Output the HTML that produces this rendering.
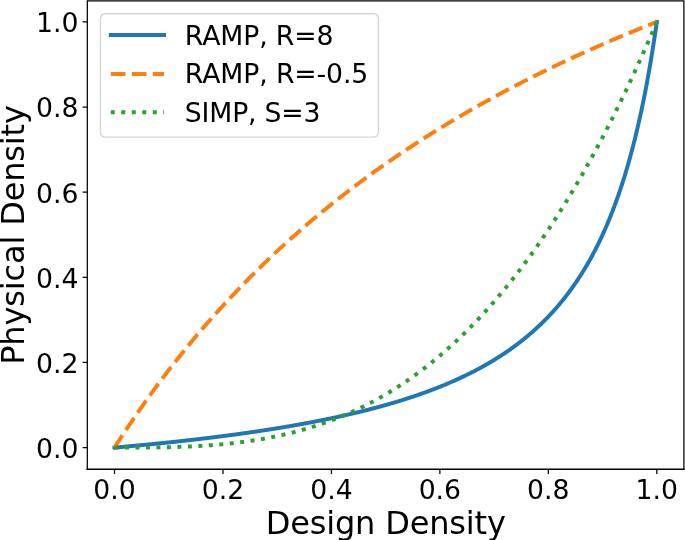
<!DOCTYPE html>
<html><head><meta charset="utf-8"><style>
html,body{margin:0;padding:0;background:#fff;width:685px;height:540px;overflow:hidden}
svg{display:block}
text{font-family:"DejaVu Sans","Liberation Sans",sans-serif}
</style></head><body>
<svg width="685" height="540" viewBox="0 0 685 540">
<rect width="685" height="540" fill="#fff"/>
<path d="M114.50,447.60 L115.04,447.55 L115.58,447.51 L116.13,447.46 L116.67,447.41 L117.21,447.36 L117.75,447.31 L118.30,447.27 L118.84,447.22 L119.38,447.17 L119.92,447.12 L120.47,447.07 L121.01,447.03 L121.55,446.98 L122.09,446.93 L122.63,446.88 L123.18,446.83 L123.72,446.78 L124.26,446.73 L124.80,446.69 L125.35,446.64 L125.89,446.59 L126.43,446.54 L126.97,446.49 L127.52,446.44 L128.06,446.39 L128.60,446.34 L129.14,446.29 L129.68,446.24 L130.23,446.19 L130.77,446.14 L131.31,446.09 L131.85,446.04 L132.40,445.99 L132.94,445.94 L133.48,445.89 L134.02,445.84 L134.57,445.79 L135.11,445.74 L135.65,445.69 L136.19,445.64 L136.73,445.59 L137.28,445.54 L137.82,445.49 L138.36,445.43 L138.90,445.38 L139.45,445.33 L139.99,445.28 L140.53,445.23 L141.07,445.18 L141.62,445.12 L142.16,445.07 L142.70,445.02 L143.24,444.97 L143.78,444.92 L144.33,444.86 L144.87,444.81 L145.41,444.76 L145.95,444.71 L146.50,444.65 L147.04,444.60 L147.58,444.55 L148.12,444.50 L148.66,444.44 L149.21,444.39 L149.75,444.34 L150.29,444.28 L150.83,444.23 L151.38,444.18 L151.92,444.12 L152.46,444.07 L153.00,444.02 L153.55,443.96 L154.09,443.91 L154.63,443.85 L155.17,443.80 L155.71,443.74 L156.26,443.69 L156.80,443.64 L157.34,443.58 L157.88,443.53 L158.43,443.47 L158.97,443.42 L159.51,443.36 L160.05,443.31 L160.60,443.25 L161.14,443.20 L161.68,443.14 L162.22,443.08 L162.76,443.03 L163.31,442.97 L163.85,442.92 L164.39,442.86 L164.93,442.80 L165.48,442.75 L166.02,442.69 L166.56,442.64 L167.10,442.58 L167.65,442.52 L168.19,442.47 L168.73,442.41 L169.27,442.35 L169.81,442.29 L170.36,442.24 L170.90,442.18 L171.44,442.12 L171.98,442.06 L172.53,442.01 L173.07,441.95 L173.61,441.89 L174.15,441.83 L174.70,441.77 L175.24,441.72 L175.78,441.66 L176.32,441.60 L176.86,441.54 L177.41,441.48 L177.95,441.42 L178.49,441.36 L179.03,441.31 L179.58,441.25 L180.12,441.19 L180.66,441.13 L181.20,441.07 L181.75,441.01 L182.29,440.95 L182.83,440.89 L183.37,440.83 L183.91,440.77 L184.46,440.71 L185.00,440.65 L185.54,440.59 L186.08,440.53 L186.63,440.47 L187.17,440.40 L187.71,440.34 L188.25,440.28 L188.80,440.22 L189.34,440.16 L189.88,440.10 L190.42,440.04 L190.96,439.98 L191.51,439.91 L192.05,439.85 L192.59,439.79 L193.13,439.73 L193.68,439.66 L194.22,439.60 L194.76,439.54 L195.30,439.48 L195.84,439.41 L196.39,439.35 L196.93,439.29 L197.47,439.22 L198.01,439.16 L198.56,439.10 L199.10,439.03 L199.64,438.97 L200.18,438.91 L200.73,438.84 L201.27,438.78 L201.81,438.71 L202.35,438.65 L202.89,438.58 L203.44,438.52 L203.98,438.45 L204.52,438.39 L205.06,438.32 L205.61,438.26 L206.15,438.19 L206.69,438.13 L207.23,438.06 L207.78,438.00 L208.32,437.93 L208.86,437.86 L209.40,437.80 L209.94,437.73 L210.49,437.66 L211.03,437.60 L211.57,437.53 L212.11,437.46 L212.66,437.40 L213.20,437.33 L213.74,437.26 L214.28,437.20 L214.83,437.13 L215.37,437.06 L215.91,436.99 L216.45,436.92 L216.99,436.86 L217.54,436.79 L218.08,436.72 L218.62,436.65 L219.16,436.58 L219.71,436.51 L220.25,436.44 L220.79,436.37 L221.33,436.30 L221.88,436.23 L222.42,436.16 L222.96,436.09 L223.50,436.02 L224.04,435.95 L224.59,435.88 L225.13,435.81 L225.67,435.74 L226.21,435.67 L226.76,435.60 L227.30,435.53 L227.84,435.46 L228.38,435.39 L228.93,435.32 L229.47,435.24 L230.01,435.17 L230.55,435.10 L231.09,435.03 L231.64,434.96 L232.18,434.88 L232.72,434.81 L233.26,434.74 L233.81,434.66 L234.35,434.59 L234.89,434.52 L235.43,434.44 L235.98,434.37 L236.52,434.30 L237.06,434.22 L237.60,434.15 L238.14,434.07 L238.69,434.00 L239.23,433.93 L239.77,433.85 L240.31,433.78 L240.86,433.70 L241.40,433.62 L241.94,433.55 L242.48,433.47 L243.03,433.40 L243.57,433.32 L244.11,433.25 L244.65,433.17 L245.19,433.09 L245.74,433.02 L246.28,432.94 L246.82,432.86 L247.36,432.79 L247.91,432.71 L248.45,432.63 L248.99,432.55 L249.53,432.47 L250.07,432.40 L250.62,432.32 L251.16,432.24 L251.70,432.16 L252.24,432.08 L252.79,432.00 L253.33,431.92 L253.87,431.84 L254.41,431.77 L254.96,431.69 L255.50,431.61 L256.04,431.53 L256.58,431.45 L257.12,431.36 L257.67,431.28 L258.21,431.20 L258.75,431.12 L259.29,431.04 L259.84,430.96 L260.38,430.88 L260.92,430.80 L261.46,430.71 L262.01,430.63 L262.55,430.55 L263.09,430.47 L263.63,430.38 L264.17,430.30 L264.72,430.22 L265.26,430.13 L265.80,430.05 L266.34,429.97 L266.89,429.88 L267.43,429.80 L267.97,429.72 L268.51,429.63 L269.06,429.55 L269.60,429.46 L270.14,429.38 L270.68,429.29 L271.22,429.20 L271.77,429.12 L272.31,429.03 L272.85,428.95 L273.39,428.86 L273.94,428.77 L274.48,428.69 L275.02,428.60 L275.56,428.51 L276.11,428.43 L276.65,428.34 L277.19,428.25 L277.73,428.16 L278.27,428.07 L278.82,427.99 L279.36,427.90 L279.90,427.81 L280.44,427.72 L280.99,427.63 L281.53,427.54 L282.07,427.45 L282.61,427.36 L283.16,427.27 L283.70,427.18 L284.24,427.09 L284.78,427.00 L285.32,426.91 L285.87,426.81 L286.41,426.72 L286.95,426.63 L287.49,426.54 L288.04,426.45 L288.58,426.35 L289.12,426.26 L289.66,426.17 L290.21,426.08 L290.75,425.98 L291.29,425.89 L291.83,425.79 L292.37,425.70 L292.92,425.61 L293.46,425.51 L294.00,425.42 L294.54,425.32 L295.09,425.23 L295.63,425.13 L296.17,425.04 L296.71,424.94 L297.26,424.84 L297.80,424.75 L298.34,424.65 L298.88,424.55 L299.42,424.46 L299.97,424.36 L300.51,424.26 L301.05,424.16 L301.59,424.06 L302.14,423.97 L302.68,423.87 L303.22,423.77 L303.76,423.67 L304.31,423.57 L304.85,423.47 L305.39,423.37 L305.93,423.27 L306.47,423.17 L307.02,423.07 L307.56,422.97 L308.10,422.86 L308.64,422.76 L309.19,422.66 L309.73,422.56 L310.27,422.46 L310.81,422.35 L311.35,422.25 L311.90,422.15 L312.44,422.04 L312.98,421.94 L313.52,421.84 L314.07,421.73 L314.61,421.63 L315.15,421.52 L315.69,421.42 L316.24,421.31 L316.78,421.21 L317.32,421.10 L317.86,420.99 L318.40,420.89 L318.95,420.78 L319.49,420.67 L320.03,420.57 L320.57,420.46 L321.12,420.35 L321.66,420.24 L322.20,420.13 L322.74,420.02 L323.29,419.92 L323.83,419.81 L324.37,419.70 L324.91,419.59 L325.45,419.48 L326.00,419.36 L326.54,419.25 L327.08,419.14 L327.62,419.03 L328.17,418.92 L328.71,418.81 L329.25,418.69 L329.79,418.58 L330.34,418.47 L330.88,418.36 L331.42,418.24 L331.96,418.13 L332.50,418.01 L333.05,417.90 L333.59,417.78 L334.13,417.67 L334.67,417.55 L335.22,417.44 L335.76,417.32 L336.30,417.20 L336.84,417.09 L337.39,416.97 L337.93,416.85 L338.47,416.73 L339.01,416.62 L339.55,416.50 L340.10,416.38 L340.64,416.26 L341.18,416.14 L341.72,416.02 L342.27,415.90 L342.81,415.78 L343.35,415.66 L343.89,415.54 L344.44,415.41 L344.98,415.29 L345.52,415.17 L346.06,415.05 L346.60,414.92 L347.15,414.80 L347.69,414.68 L348.23,414.55 L348.77,414.43 L349.32,414.30 L349.86,414.18 L350.40,414.05 L350.94,413.93 L351.49,413.80 L352.03,413.67 L352.57,413.55 L353.11,413.42 L353.65,413.29 L354.20,413.16 L354.74,413.04 L355.28,412.91 L355.82,412.78 L356.37,412.65 L356.91,412.52 L357.45,412.39 L357.99,412.26 L358.53,412.12 L359.08,411.99 L359.62,411.86 L360.16,411.73 L360.70,411.60 L361.25,411.46 L361.79,411.33 L362.33,411.20 L362.87,411.06 L363.42,410.93 L363.96,410.79 L364.50,410.66 L365.04,410.52 L365.58,410.38 L366.13,410.25 L366.67,410.11 L367.21,409.97 L367.75,409.83 L368.30,409.70 L368.84,409.56 L369.38,409.42 L369.92,409.28 L370.47,409.14 L371.01,409.00 L371.55,408.86 L372.09,408.71 L372.63,408.57 L373.18,408.43 L373.72,408.29 L374.26,408.14 L374.80,408.00 L375.35,407.86 L375.89,407.71 L376.43,407.57 L376.97,407.42 L377.52,407.27 L378.06,407.13 L378.60,406.98 L379.14,406.83 L379.68,406.69 L380.23,406.54 L380.77,406.39 L381.31,406.24 L381.85,406.09 L382.40,405.94 L382.94,405.79 L383.48,405.64 L384.02,405.49 L384.57,405.34 L385.11,405.18 L385.65,405.03 L386.19,404.88 L386.73,404.72 L387.28,404.57 L387.82,404.41 L388.36,404.26 L388.90,404.10 L389.45,403.95 L389.99,403.79 L390.53,403.63 L391.07,403.47 L391.62,403.31 L392.16,403.15 L392.70,403.00 L393.24,402.84 L393.78,402.67 L394.33,402.51 L394.87,402.35 L395.41,402.19 L395.95,402.03 L396.50,401.86 L397.04,401.70 L397.58,401.54 L398.12,401.37 L398.67,401.21 L399.21,401.04 L399.75,400.87 L400.29,400.71 L400.83,400.54 L401.38,400.37 L401.92,400.20 L402.46,400.03 L403.00,399.86 L403.55,399.69 L404.09,399.52 L404.63,399.35 L405.17,399.18 L405.72,399.00 L406.26,398.83 L406.80,398.66 L407.34,398.48 L407.88,398.31 L408.43,398.13 L408.97,397.95 L409.51,397.78 L410.05,397.60 L410.60,397.42 L411.14,397.24 L411.68,397.06 L412.22,396.88 L412.76,396.70 L413.31,396.52 L413.85,396.34 L414.39,396.16 L414.93,395.97 L415.48,395.79 L416.02,395.60 L416.56,395.42 L417.10,395.23 L417.65,395.05 L418.19,394.86 L418.73,394.67 L419.27,394.48 L419.81,394.29 L420.36,394.10 L420.90,393.91 L421.44,393.72 L421.98,393.53 L422.53,393.34 L423.07,393.14 L423.61,392.95 L424.15,392.75 L424.70,392.56 L425.24,392.36 L425.78,392.17 L426.32,391.97 L426.86,391.77 L427.41,391.57 L427.95,391.37 L428.49,391.17 L429.03,390.97 L429.58,390.77 L430.12,390.57 L430.66,390.36 L431.20,390.16 L431.75,389.95 L432.29,389.75 L432.83,389.54 L433.37,389.33 L433.91,389.13 L434.46,388.92 L435.00,388.71 L435.54,388.50 L436.08,388.29 L436.63,388.07 L437.17,387.86 L437.71,387.65 L438.25,387.43 L438.80,387.22 L439.34,387.00 L439.88,386.79 L440.42,386.57 L440.96,386.35 L441.51,386.13 L442.05,385.91 L442.59,385.69 L443.13,385.47 L443.68,385.24 L444.22,385.02 L444.76,384.80 L445.30,384.57 L445.85,384.35 L446.39,384.12 L446.93,383.89 L447.47,383.66 L448.01,383.43 L448.56,383.20 L449.10,382.97 L449.64,382.74 L450.18,382.50 L450.73,382.27 L451.27,382.03 L451.81,381.80 L452.35,381.56 L452.90,381.32 L453.44,381.08 L453.98,380.84 L454.52,380.60 L455.06,380.36 L455.61,380.12 L456.15,379.88 L456.69,379.63 L457.23,379.38 L457.78,379.14 L458.32,378.89 L458.86,378.64 L459.40,378.39 L459.95,378.14 L460.49,377.89 L461.03,377.64 L461.57,377.38 L462.11,377.13 L462.66,376.87 L463.20,376.61 L463.74,376.35 L464.28,376.10 L464.83,375.84 L465.37,375.57 L465.91,375.31 L466.45,375.05 L467.00,374.78 L467.54,374.52 L468.08,374.25 L468.62,373.98 L469.16,373.71 L469.71,373.44 L470.25,373.17 L470.79,372.90 L471.33,372.62 L471.88,372.35 L472.42,372.07 L472.96,371.80 L473.50,371.52 L474.04,371.24 L474.59,370.96 L475.13,370.67 L475.67,370.39 L476.21,370.10 L476.76,369.82 L477.30,369.53 L477.84,369.24 L478.38,368.95 L478.93,368.66 L479.47,368.37 L480.01,368.08 L480.55,367.78 L481.09,367.48 L481.64,367.19 L482.18,366.89 L482.72,366.59 L483.26,366.29 L483.81,365.98 L484.35,365.68 L484.89,365.37 L485.43,365.07 L485.98,364.76 L486.52,364.45 L487.06,364.14 L487.60,363.82 L488.14,363.51 L488.69,363.19 L489.23,362.88 L489.77,362.56 L490.31,362.24 L490.86,361.92 L491.40,361.59 L491.94,361.27 L492.48,360.94 L493.03,360.62 L493.57,360.29 L494.11,359.96 L494.65,359.62 L495.19,359.29 L495.74,358.95 L496.28,358.62 L496.82,358.28 L497.36,357.94 L497.91,357.60 L498.45,357.25 L498.99,356.91 L499.53,356.56 L500.08,356.21 L500.62,355.86 L501.16,355.51 L501.70,355.16 L502.24,354.80 L502.79,354.45 L503.33,354.09 L503.87,353.73 L504.41,353.36 L504.96,353.00 L505.50,352.63 L506.04,352.27 L506.58,351.90 L507.13,351.53 L507.67,351.15 L508.21,350.78 L508.75,350.40 L509.29,350.02 L509.84,349.64 L510.38,349.26 L510.92,348.87 L511.46,348.49 L512.01,348.10 L512.55,347.71 L513.09,347.31 L513.63,346.92 L514.18,346.52 L514.72,346.12 L515.26,345.72 L515.80,345.32 L516.34,344.92 L516.89,344.51 L517.43,344.10 L517.97,343.69 L518.51,343.28 L519.06,342.86 L519.60,342.44 L520.14,342.02 L520.68,341.60 L521.22,341.18 L521.77,340.75 L522.31,340.32 L522.85,339.89 L523.39,339.45 L523.94,339.02 L524.48,338.58 L525.02,338.14 L525.56,337.70 L526.11,337.25 L526.65,336.80 L527.19,336.35 L527.73,335.90 L528.27,335.44 L528.82,334.98 L529.36,334.52 L529.90,334.06 L530.44,333.59 L530.99,333.13 L531.53,332.66 L532.07,332.18 L532.61,331.70 L533.16,331.23 L533.70,330.74 L534.24,330.26 L534.78,329.77 L535.32,329.28 L535.87,328.79 L536.41,328.29 L536.95,327.79 L537.49,327.29 L538.04,326.79 L538.58,326.28 L539.12,325.77 L539.66,325.26 L540.21,324.74 L540.75,324.22 L541.29,323.70 L541.83,323.17 L542.37,322.65 L542.92,322.11 L543.46,321.58 L544.00,321.04 L544.54,320.50 L545.09,319.95 L545.63,319.41 L546.17,318.85 L546.71,318.30 L547.26,317.74 L547.80,317.18 L548.34,316.62 L548.88,316.05 L549.42,315.47 L549.97,314.90 L550.51,314.32 L551.05,313.74 L551.59,313.15 L552.14,312.56 L552.68,311.97 L553.22,311.37 L553.76,310.77 L554.31,310.16 L554.85,309.55 L555.39,308.94 L555.93,308.32 L556.47,307.70 L557.02,307.08 L557.56,306.45 L558.10,305.82 L558.64,305.18 L559.19,304.54 L559.73,303.89 L560.27,303.24 L560.81,302.59 L561.36,301.93 L561.90,301.27 L562.44,300.60 L562.98,299.93 L563.52,299.25 L564.07,298.57 L564.61,297.88 L565.15,297.19 L565.69,296.50 L566.24,295.80 L566.78,295.09 L567.32,294.38 L567.86,293.67 L568.41,292.95 L568.95,292.23 L569.49,291.50 L570.03,290.76 L570.57,290.02 L571.12,289.28 L571.66,288.53 L572.20,287.77 L572.74,287.01 L573.29,286.25 L573.83,285.47 L574.37,284.70 L574.91,283.91 L575.45,283.13 L576.00,282.33 L576.54,281.53 L577.08,280.72 L577.62,279.91 L578.17,279.09 L578.71,278.27 L579.25,277.44 L579.79,276.60 L580.34,275.76 L580.88,274.91 L581.42,274.05 L581.96,273.19 L582.50,272.32 L583.05,271.45 L583.59,270.57 L584.13,269.68 L584.67,268.78 L585.22,267.88 L585.76,266.97 L586.30,266.05 L586.84,265.13 L587.39,264.20 L587.93,263.26 L588.47,262.31 L589.01,261.36 L589.55,260.39 L590.10,259.43 L590.64,258.45 L591.18,257.46 L591.72,256.47 L592.27,255.47 L592.81,254.46 L593.35,253.44 L593.89,252.41 L594.44,251.38 L594.98,250.34 L595.52,249.28 L596.06,248.22 L596.60,247.15 L597.15,246.07 L597.69,244.98 L598.23,243.89 L598.77,242.78 L599.32,241.66 L599.86,240.53 L600.40,239.40 L600.94,238.25 L601.49,237.09 L602.03,235.93 L602.57,234.75 L603.11,233.56 L603.65,232.36 L604.20,231.15 L604.74,229.93 L605.28,228.70 L605.82,227.46 L606.37,226.21 L606.91,224.94 L607.45,223.66 L607.99,222.38 L608.54,221.07 L609.08,219.76 L609.62,218.43 L610.16,217.10 L610.70,215.75 L611.25,214.38 L611.79,213.00 L612.33,211.61 L612.87,210.21 L613.42,208.79 L613.96,207.36 L614.50,205.92 L615.04,204.46 L615.59,202.98 L616.13,201.49 L616.67,199.99 L617.21,198.47 L617.75,196.93 L618.30,195.38 L618.84,193.82 L619.38,192.23 L619.92,190.64 L620.47,189.02 L621.01,187.39 L621.55,185.74 L622.09,184.07 L622.64,182.39 L623.18,180.68 L623.72,178.96 L624.26,177.22 L624.80,175.46 L625.35,173.69 L625.89,171.89 L626.43,170.07 L626.97,168.23 L627.52,166.38 L628.06,164.50 L628.60,162.60 L629.14,160.68 L629.68,158.73 L630.23,156.77 L630.77,154.78 L631.31,152.77 L631.85,150.73 L632.40,148.67 L632.94,146.59 L633.48,144.48 L634.02,142.35 L634.57,140.19 L635.11,138.00 L635.65,135.79 L636.19,133.55 L636.73,131.28 L637.28,128.99 L637.82,126.66 L638.36,124.31 L638.90,121.93 L639.45,119.51 L639.99,117.07 L640.53,114.59 L641.07,112.08 L641.62,109.54 L642.16,106.97 L642.70,104.36 L643.24,101.72 L643.78,99.04 L644.33,96.33 L644.87,93.57 L645.41,90.78 L645.95,87.96 L646.50,85.09 L647.04,82.18 L647.58,79.23 L648.12,76.24 L648.67,73.21 L649.21,70.14 L649.75,67.01 L650.29,63.85 L650.83,60.64 L651.38,57.38 L651.92,54.07 L652.46,50.71 L653.00,47.30 L653.55,43.83 L654.09,40.32 L654.63,36.75 L655.17,33.12 L655.72,29.44 L656.26,25.70 L656.80,21.90" fill="none" stroke="#1f77b4" stroke-width="3.96" stroke-linecap="square" stroke-linejoin="round"/>
<path d="M114.50,447.60 L115.04,446.75 L115.58,445.90 L116.13,445.05 L116.67,444.21 L117.21,443.36 L117.75,442.52 L118.30,441.68 L118.84,440.84 L119.38,440.01 L119.92,439.17 L120.47,438.34 L121.01,437.50 L121.55,436.67 L122.09,435.84 L122.63,435.02 L123.18,434.19 L123.72,433.37 L124.26,432.55 L124.80,431.73 L125.35,430.91 L125.89,430.09 L126.43,429.27 L126.97,428.46 L127.52,427.65 L128.06,426.83 L128.60,426.02 L129.14,425.22 L129.68,424.41 L130.23,423.61 L130.77,422.80 L131.31,422.00 L131.85,421.20 L132.40,420.40 L132.94,419.60 L133.48,418.81 L134.02,418.01 L134.57,417.22 L135.11,416.43 L135.65,415.64 L136.19,414.85 L136.73,414.07 L137.28,413.28 L137.82,412.50 L138.36,411.72 L138.90,410.94 L139.45,410.16 L139.99,409.38 L140.53,408.60 L141.07,407.83 L141.62,407.06 L142.16,406.29 L142.70,405.52 L143.24,404.75 L143.78,403.98 L144.33,403.21 L144.87,402.45 L145.41,401.69 L145.95,400.93 L146.50,400.17 L147.04,399.41 L147.58,398.65 L148.12,397.89 L148.66,397.14 L149.21,396.39 L149.75,395.64 L150.29,394.89 L150.83,394.14 L151.38,393.39 L151.92,392.65 L152.46,391.90 L153.00,391.16 L153.55,390.42 L154.09,389.68 L154.63,388.94 L155.17,388.20 L155.71,387.46 L156.26,386.73 L156.80,386.00 L157.34,385.26 L157.88,384.53 L158.43,383.80 L158.97,383.08 L159.51,382.35 L160.05,381.62 L160.60,380.90 L161.14,380.18 L161.68,379.46 L162.22,378.74 L162.76,378.02 L163.31,377.30 L163.85,376.58 L164.39,375.87 L164.93,375.16 L165.48,374.44 L166.02,373.73 L166.56,373.02 L167.10,372.32 L167.65,371.61 L168.19,370.90 L168.73,370.20 L169.27,369.50 L169.81,368.80 L170.36,368.09 L170.90,367.40 L171.44,366.70 L171.98,366.00 L172.53,365.31 L173.07,364.61 L173.61,363.92 L174.15,363.23 L174.70,362.54 L175.24,361.85 L175.78,361.16 L176.32,360.47 L176.86,359.79 L177.41,359.10 L177.95,358.42 L178.49,357.74 L179.03,357.06 L179.58,356.38 L180.12,355.70 L180.66,355.02 L181.20,354.35 L181.75,353.67 L182.29,353.00 L182.83,352.33 L183.37,351.66 L183.91,350.99 L184.46,350.32 L185.00,349.65 L185.54,348.99 L186.08,348.32 L186.63,347.66 L187.17,346.99 L187.71,346.33 L188.25,345.67 L188.80,345.01 L189.34,344.35 L189.88,343.70 L190.42,343.04 L190.96,342.39 L191.51,341.73 L192.05,341.08 L192.59,340.43 L193.13,339.78 L193.68,339.13 L194.22,338.48 L194.76,337.84 L195.30,337.19 L195.84,336.55 L196.39,335.90 L196.93,335.26 L197.47,334.62 L198.01,333.98 L198.56,333.34 L199.10,332.71 L199.64,332.07 L200.18,331.43 L200.73,330.80 L201.27,330.17 L201.81,329.53 L202.35,328.90 L202.89,328.27 L203.44,327.64 L203.98,327.02 L204.52,326.39 L205.06,325.76 L205.61,325.14 L206.15,324.51 L206.69,323.89 L207.23,323.27 L207.78,322.65 L208.32,322.03 L208.86,321.41 L209.40,320.80 L209.94,320.18 L210.49,319.56 L211.03,318.95 L211.57,318.34 L212.11,317.73 L212.66,317.11 L213.20,316.50 L213.74,315.90 L214.28,315.29 L214.83,314.68 L215.37,314.08 L215.91,313.47 L216.45,312.87 L216.99,312.26 L217.54,311.66 L218.08,311.06 L218.62,310.46 L219.16,309.86 L219.71,309.27 L220.25,308.67 L220.79,308.07 L221.33,307.48 L221.88,306.88 L222.42,306.29 L222.96,305.70 L223.50,305.11 L224.04,304.52 L224.59,303.93 L225.13,303.34 L225.67,302.76 L226.21,302.17 L226.76,301.59 L227.30,301.00 L227.84,300.42 L228.38,299.84 L228.93,299.26 L229.47,298.68 L230.01,298.10 L230.55,297.52 L231.09,296.94 L231.64,296.36 L232.18,295.79 L232.72,295.21 L233.26,294.64 L233.81,294.07 L234.35,293.50 L234.89,292.93 L235.43,292.36 L235.98,291.79 L236.52,291.22 L237.06,290.65 L237.60,290.09 L238.14,289.52 L238.69,288.96 L239.23,288.40 L239.77,287.83 L240.31,287.27 L240.86,286.71 L241.40,286.15 L241.94,285.59 L242.48,285.03 L243.03,284.48 L243.57,283.92 L244.11,283.37 L244.65,282.81 L245.19,282.26 L245.74,281.71 L246.28,281.16 L246.82,280.61 L247.36,280.06 L247.91,279.51 L248.45,278.96 L248.99,278.41 L249.53,277.87 L250.07,277.32 L250.62,276.78 L251.16,276.23 L251.70,275.69 L252.24,275.15 L252.79,274.61 L253.33,274.07 L253.87,273.53 L254.41,272.99 L254.96,272.45 L255.50,271.91 L256.04,271.38 L256.58,270.84 L257.12,270.31 L257.67,269.78 L258.21,269.24 L258.75,268.71 L259.29,268.18 L259.84,267.65 L260.38,267.12 L260.92,266.59 L261.46,266.07 L262.01,265.54 L262.55,265.01 L263.09,264.49 L263.63,263.96 L264.17,263.44 L264.72,262.92 L265.26,262.40 L265.80,261.88 L266.34,261.36 L266.89,260.84 L267.43,260.32 L267.97,259.80 L268.51,259.28 L269.06,258.77 L269.60,258.25 L270.14,257.74 L270.68,257.22 L271.22,256.71 L271.77,256.20 L272.31,255.69 L272.85,255.18 L273.39,254.67 L273.94,254.16 L274.48,253.65 L275.02,253.14 L275.56,252.64 L276.11,252.13 L276.65,251.63 L277.19,251.12 L277.73,250.62 L278.27,250.12 L278.82,249.62 L279.36,249.11 L279.90,248.61 L280.44,248.11 L280.99,247.62 L281.53,247.12 L282.07,246.62 L282.61,246.12 L283.16,245.63 L283.70,245.13 L284.24,244.64 L284.78,244.15 L285.32,243.65 L285.87,243.16 L286.41,242.67 L286.95,242.18 L287.49,241.69 L288.04,241.20 L288.58,240.71 L289.12,240.22 L289.66,239.74 L290.21,239.25 L290.75,238.77 L291.29,238.28 L291.83,237.80 L292.37,237.31 L292.92,236.83 L293.46,236.35 L294.00,235.87 L294.54,235.39 L295.09,234.91 L295.63,234.43 L296.17,233.95 L296.71,233.48 L297.26,233.00 L297.80,232.52 L298.34,232.05 L298.88,231.57 L299.42,231.10 L299.97,230.63 L300.51,230.15 L301.05,229.68 L301.59,229.21 L302.14,228.74 L302.68,228.27 L303.22,227.80 L303.76,227.33 L304.31,226.87 L304.85,226.40 L305.39,225.93 L305.93,225.47 L306.47,225.00 L307.02,224.54 L307.56,224.08 L308.10,223.61 L308.64,223.15 L309.19,222.69 L309.73,222.23 L310.27,221.77 L310.81,221.31 L311.35,220.85 L311.90,220.39 L312.44,219.94 L312.98,219.48 L313.52,219.02 L314.07,218.57 L314.61,218.11 L315.15,217.66 L315.69,217.21 L316.24,216.75 L316.78,216.30 L317.32,215.85 L317.86,215.40 L318.40,214.95 L318.95,214.50 L319.49,214.05 L320.03,213.60 L320.57,213.16 L321.12,212.71 L321.66,212.26 L322.20,211.82 L322.74,211.37 L323.29,210.93 L323.83,210.49 L324.37,210.04 L324.91,209.60 L325.45,209.16 L326.00,208.72 L326.54,208.28 L327.08,207.84 L327.62,207.40 L328.17,206.96 L328.71,206.52 L329.25,206.09 L329.79,205.65 L330.34,205.21 L330.88,204.78 L331.42,204.34 L331.96,203.91 L332.50,203.48 L333.05,203.04 L333.59,202.61 L334.13,202.18 L334.67,201.75 L335.22,201.32 L335.76,200.89 L336.30,200.46 L336.84,200.03 L337.39,199.60 L337.93,199.17 L338.47,198.75 L339.01,198.32 L339.55,197.90 L340.10,197.47 L340.64,197.05 L341.18,196.62 L341.72,196.20 L342.27,195.78 L342.81,195.36 L343.35,194.93 L343.89,194.51 L344.44,194.09 L344.98,193.67 L345.52,193.25 L346.06,192.84 L346.60,192.42 L347.15,192.00 L347.69,191.58 L348.23,191.17 L348.77,190.75 L349.32,190.34 L349.86,189.92 L350.40,189.51 L350.94,189.10 L351.49,188.68 L352.03,188.27 L352.57,187.86 L353.11,187.45 L353.65,187.04 L354.20,186.63 L354.74,186.22 L355.28,185.81 L355.82,185.40 L356.37,185.00 L356.91,184.59 L357.45,184.18 L357.99,183.78 L358.53,183.37 L359.08,182.97 L359.62,182.56 L360.16,182.16 L360.70,181.76 L361.25,181.35 L361.79,180.95 L362.33,180.55 L362.87,180.15 L363.42,179.75 L363.96,179.35 L364.50,178.95 L365.04,178.55 L365.58,178.15 L366.13,177.76 L366.67,177.36 L367.21,176.96 L367.75,176.57 L368.30,176.17 L368.84,175.78 L369.38,175.38 L369.92,174.99 L370.47,174.60 L371.01,174.20 L371.55,173.81 L372.09,173.42 L372.63,173.03 L373.18,172.64 L373.72,172.25 L374.26,171.86 L374.80,171.47 L375.35,171.08 L375.89,170.69 L376.43,170.31 L376.97,169.92 L377.52,169.53 L378.06,169.15 L378.60,168.76 L379.14,168.38 L379.68,167.99 L380.23,167.61 L380.77,167.23 L381.31,166.84 L381.85,166.46 L382.40,166.08 L382.94,165.70 L383.48,165.32 L384.02,164.94 L384.57,164.56 L385.11,164.18 L385.65,163.80 L386.19,163.42 L386.73,163.04 L387.28,162.67 L387.82,162.29 L388.36,161.91 L388.90,161.54 L389.45,161.16 L389.99,160.79 L390.53,160.41 L391.07,160.04 L391.62,159.67 L392.16,159.30 L392.70,158.92 L393.24,158.55 L393.78,158.18 L394.33,157.81 L394.87,157.44 L395.41,157.07 L395.95,156.70 L396.50,156.33 L397.04,155.96 L397.58,155.60 L398.12,155.23 L398.67,154.86 L399.21,154.50 L399.75,154.13 L400.29,153.76 L400.83,153.40 L401.38,153.03 L401.92,152.67 L402.46,152.31 L403.00,151.94 L403.55,151.58 L404.09,151.22 L404.63,150.86 L405.17,150.50 L405.72,150.14 L406.26,149.78 L406.80,149.42 L407.34,149.06 L407.88,148.70 L408.43,148.34 L408.97,147.98 L409.51,147.62 L410.05,147.27 L410.60,146.91 L411.14,146.56 L411.68,146.20 L412.22,145.84 L412.76,145.49 L413.31,145.14 L413.85,144.78 L414.39,144.43 L414.93,144.08 L415.48,143.72 L416.02,143.37 L416.56,143.02 L417.10,142.67 L417.65,142.32 L418.19,141.97 L418.73,141.62 L419.27,141.27 L419.81,140.92 L420.36,140.57 L420.90,140.23 L421.44,139.88 L421.98,139.53 L422.53,139.18 L423.07,138.84 L423.61,138.49 L424.15,138.15 L424.70,137.80 L425.24,137.46 L425.78,137.11 L426.32,136.77 L426.86,136.43 L427.41,136.09 L427.95,135.74 L428.49,135.40 L429.03,135.06 L429.58,134.72 L430.12,134.38 L430.66,134.04 L431.20,133.70 L431.75,133.36 L432.29,133.02 L432.83,132.68 L433.37,132.35 L433.91,132.01 L434.46,131.67 L435.00,131.34 L435.54,131.00 L436.08,130.66 L436.63,130.33 L437.17,129.99 L437.71,129.66 L438.25,129.32 L438.80,128.99 L439.34,128.66 L439.88,128.33 L440.42,127.99 L440.96,127.66 L441.51,127.33 L442.05,127.00 L442.59,126.67 L443.13,126.34 L443.68,126.01 L444.22,125.68 L444.76,125.35 L445.30,125.02 L445.85,124.69 L446.39,124.36 L446.93,124.04 L447.47,123.71 L448.01,123.38 L448.56,123.06 L449.10,122.73 L449.64,122.41 L450.18,122.08 L450.73,121.76 L451.27,121.43 L451.81,121.11 L452.35,120.78 L452.90,120.46 L453.44,120.14 L453.98,119.82 L454.52,119.49 L455.06,119.17 L455.61,118.85 L456.15,118.53 L456.69,118.21 L457.23,117.89 L457.78,117.57 L458.32,117.25 L458.86,116.93 L459.40,116.62 L459.95,116.30 L460.49,115.98 L461.03,115.66 L461.57,115.35 L462.11,115.03 L462.66,114.71 L463.20,114.40 L463.74,114.08 L464.28,113.77 L464.83,113.45 L465.37,113.14 L465.91,112.83 L466.45,112.51 L467.00,112.20 L467.54,111.89 L468.08,111.58 L468.62,111.26 L469.16,110.95 L469.71,110.64 L470.25,110.33 L470.79,110.02 L471.33,109.71 L471.88,109.40 L472.42,109.09 L472.96,108.78 L473.50,108.47 L474.04,108.17 L474.59,107.86 L475.13,107.55 L475.67,107.24 L476.21,106.94 L476.76,106.63 L477.30,106.33 L477.84,106.02 L478.38,105.72 L478.93,105.41 L479.47,105.11 L480.01,104.80 L480.55,104.50 L481.09,104.20 L481.64,103.89 L482.18,103.59 L482.72,103.29 L483.26,102.99 L483.81,102.68 L484.35,102.38 L484.89,102.08 L485.43,101.78 L485.98,101.48 L486.52,101.18 L487.06,100.88 L487.60,100.58 L488.14,100.29 L488.69,99.99 L489.23,99.69 L489.77,99.39 L490.31,99.09 L490.86,98.80 L491.40,98.50 L491.94,98.20 L492.48,97.91 L493.03,97.61 L493.57,97.32 L494.11,97.02 L494.65,96.73 L495.19,96.44 L495.74,96.14 L496.28,95.85 L496.82,95.55 L497.36,95.26 L497.91,94.97 L498.45,94.68 L498.99,94.39 L499.53,94.09 L500.08,93.80 L500.62,93.51 L501.16,93.22 L501.70,92.93 L502.24,92.64 L502.79,92.35 L503.33,92.06 L503.87,91.78 L504.41,91.49 L504.96,91.20 L505.50,90.91 L506.04,90.63 L506.58,90.34 L507.13,90.05 L507.67,89.77 L508.21,89.48 L508.75,89.19 L509.29,88.91 L509.84,88.62 L510.38,88.34 L510.92,88.05 L511.46,87.77 L512.01,87.49 L512.55,87.20 L513.09,86.92 L513.63,86.64 L514.18,86.36 L514.72,86.07 L515.26,85.79 L515.80,85.51 L516.34,85.23 L516.89,84.95 L517.43,84.67 L517.97,84.39 L518.51,84.11 L519.06,83.83 L519.60,83.55 L520.14,83.27 L520.68,82.99 L521.22,82.71 L521.77,82.44 L522.31,82.16 L522.85,81.88 L523.39,81.60 L523.94,81.33 L524.48,81.05 L525.02,80.78 L525.56,80.50 L526.11,80.23 L526.65,79.95 L527.19,79.68 L527.73,79.40 L528.27,79.13 L528.82,78.85 L529.36,78.58 L529.90,78.31 L530.44,78.03 L530.99,77.76 L531.53,77.49 L532.07,77.22 L532.61,76.95 L533.16,76.67 L533.70,76.40 L534.24,76.13 L534.78,75.86 L535.32,75.59 L535.87,75.32 L536.41,75.05 L536.95,74.78 L537.49,74.51 L538.04,74.25 L538.58,73.98 L539.12,73.71 L539.66,73.44 L540.21,73.17 L540.75,72.91 L541.29,72.64 L541.83,72.37 L542.37,72.11 L542.92,71.84 L543.46,71.58 L544.00,71.31 L544.54,71.05 L545.09,70.78 L545.63,70.52 L546.17,70.25 L546.71,69.99 L547.26,69.73 L547.80,69.46 L548.34,69.20 L548.88,68.94 L549.42,68.68 L549.97,68.41 L550.51,68.15 L551.05,67.89 L551.59,67.63 L552.14,67.37 L552.68,67.11 L553.22,66.85 L553.76,66.59 L554.31,66.33 L554.85,66.07 L555.39,65.81 L555.93,65.55 L556.47,65.29 L557.02,65.03 L557.56,64.77 L558.10,64.52 L558.64,64.26 L559.19,64.00 L559.73,63.75 L560.27,63.49 L560.81,63.23 L561.36,62.98 L561.90,62.72 L562.44,62.47 L562.98,62.21 L563.52,61.95 L564.07,61.70 L564.61,61.45 L565.15,61.19 L565.69,60.94 L566.24,60.68 L566.78,60.43 L567.32,60.18 L567.86,59.93 L568.41,59.67 L568.95,59.42 L569.49,59.17 L570.03,58.92 L570.57,58.67 L571.12,58.41 L571.66,58.16 L572.20,57.91 L572.74,57.66 L573.29,57.41 L573.83,57.16 L574.37,56.91 L574.91,56.67 L575.45,56.42 L576.00,56.17 L576.54,55.92 L577.08,55.67 L577.62,55.42 L578.17,55.18 L578.71,54.93 L579.25,54.68 L579.79,54.43 L580.34,54.19 L580.88,53.94 L581.42,53.70 L581.96,53.45 L582.50,53.20 L583.05,52.96 L583.59,52.71 L584.13,52.47 L584.67,52.23 L585.22,51.98 L585.76,51.74 L586.30,51.49 L586.84,51.25 L587.39,51.01 L587.93,50.76 L588.47,50.52 L589.01,50.28 L589.55,50.04 L590.10,49.80 L590.64,49.55 L591.18,49.31 L591.72,49.07 L592.27,48.83 L592.81,48.59 L593.35,48.35 L593.89,48.11 L594.44,47.87 L594.98,47.63 L595.52,47.39 L596.06,47.15 L596.60,46.91 L597.15,46.68 L597.69,46.44 L598.23,46.20 L598.77,45.96 L599.32,45.72 L599.86,45.49 L600.40,45.25 L600.94,45.01 L601.49,44.78 L602.03,44.54 L602.57,44.31 L603.11,44.07 L603.65,43.83 L604.20,43.60 L604.74,43.36 L605.28,43.13 L605.82,42.89 L606.37,42.66 L606.91,42.43 L607.45,42.19 L607.99,41.96 L608.54,41.73 L609.08,41.49 L609.62,41.26 L610.16,41.03 L610.70,40.80 L611.25,40.56 L611.79,40.33 L612.33,40.10 L612.87,39.87 L613.42,39.64 L613.96,39.41 L614.50,39.18 L615.04,38.95 L615.59,38.72 L616.13,38.49 L616.67,38.26 L617.21,38.03 L617.75,37.80 L618.30,37.57 L618.84,37.34 L619.38,37.11 L619.92,36.88 L620.47,36.66 L621.01,36.43 L621.55,36.20 L622.09,35.97 L622.64,35.75 L623.18,35.52 L623.72,35.29 L624.26,35.07 L624.80,34.84 L625.35,34.61 L625.89,34.39 L626.43,34.16 L626.97,33.94 L627.52,33.71 L628.06,33.49 L628.60,33.26 L629.14,33.04 L629.68,32.82 L630.23,32.59 L630.77,32.37 L631.31,32.14 L631.85,31.92 L632.40,31.70 L632.94,31.48 L633.48,31.25 L634.02,31.03 L634.57,30.81 L635.11,30.59 L635.65,30.37 L636.19,30.14 L636.73,29.92 L637.28,29.70 L637.82,29.48 L638.36,29.26 L638.90,29.04 L639.45,28.82 L639.99,28.60 L640.53,28.38 L641.07,28.16 L641.62,27.94 L642.16,27.73 L642.70,27.51 L643.24,27.29 L643.78,27.07 L644.33,26.85 L644.87,26.63 L645.41,26.42 L645.95,26.20 L646.50,25.98 L647.04,25.77 L647.58,25.55 L648.12,25.33 L648.67,25.12 L649.21,24.90 L649.75,24.69 L650.29,24.47 L650.83,24.25 L651.38,24.04 L651.92,23.82 L652.46,23.61 L653.00,23.40 L653.55,23.18 L654.09,22.97 L654.63,22.75 L655.17,22.54 L655.72,22.33 L656.26,22.11 L656.80,21.90" fill="none" stroke="#ff7f0e" stroke-width="3.96" stroke-dasharray="14.65 6.34" stroke-linecap="butt" stroke-linejoin="round"/>
<path d="M114.50,447.60 L115.04,447.60 L115.58,447.60 L116.13,447.60 L116.67,447.60 L117.21,447.60 L117.75,447.60 L118.30,447.60 L118.84,447.60 L119.38,447.60 L119.92,447.60 L120.47,447.60 L121.01,447.60 L121.55,447.60 L122.09,447.60 L122.63,447.60 L123.18,447.60 L123.72,447.60 L124.26,447.60 L124.80,447.60 L125.35,447.60 L125.89,447.60 L126.43,447.60 L126.97,447.59 L127.52,447.59 L128.06,447.59 L128.60,447.59 L129.14,447.59 L129.68,447.59 L130.23,447.59 L130.77,447.59 L131.31,447.59 L131.85,447.59 L132.40,447.58 L132.94,447.58 L133.48,447.58 L134.02,447.58 L134.57,447.58 L135.11,447.58 L135.65,447.57 L136.19,447.57 L136.73,447.57 L137.28,447.57 L137.82,447.57 L138.36,447.56 L138.90,447.56 L139.45,447.56 L139.99,447.56 L140.53,447.55 L141.07,447.55 L141.62,447.55 L142.16,447.54 L142.70,447.54 L143.24,447.54 L143.78,447.53 L144.33,447.53 L144.87,447.53 L145.41,447.52 L145.95,447.52 L146.50,447.51 L147.04,447.51 L147.58,447.50 L148.12,447.50 L148.66,447.49 L149.21,447.49 L149.75,447.48 L150.29,447.48 L150.83,447.47 L151.38,447.47 L151.92,447.46 L152.46,447.45 L153.00,447.45 L153.55,447.44 L154.09,447.43 L154.63,447.43 L155.17,447.42 L155.71,447.41 L156.26,447.41 L156.80,447.40 L157.34,447.39 L157.88,447.38 L158.43,447.37 L158.97,447.37 L159.51,447.36 L160.05,447.35 L160.60,447.34 L161.14,447.33 L161.68,447.32 L162.22,447.31 L162.76,447.30 L163.31,447.29 L163.85,447.28 L164.39,447.27 L164.93,447.26 L165.48,447.25 L166.02,447.24 L166.56,447.22 L167.10,447.21 L167.65,447.20 L168.19,447.19 L168.73,447.17 L169.27,447.16 L169.81,447.15 L170.36,447.13 L170.90,447.12 L171.44,447.11 L171.98,447.09 L172.53,447.08 L173.07,447.06 L173.61,447.05 L174.15,447.03 L174.70,447.02 L175.24,447.00 L175.78,446.99 L176.32,446.97 L176.86,446.95 L177.41,446.94 L177.95,446.92 L178.49,446.90 L179.03,446.88 L179.58,446.86 L180.12,446.85 L180.66,446.83 L181.20,446.81 L181.75,446.79 L182.29,446.77 L182.83,446.75 L183.37,446.73 L183.91,446.71 L184.46,446.69 L185.00,446.66 L185.54,446.64 L186.08,446.62 L186.63,446.60 L187.17,446.58 L187.71,446.55 L188.25,446.53 L188.80,446.51 L189.34,446.48 L189.88,446.46 L190.42,446.43 L190.96,446.41 L191.51,446.38 L192.05,446.36 L192.59,446.33 L193.13,446.30 L193.68,446.28 L194.22,446.25 L194.76,446.22 L195.30,446.19 L195.84,446.16 L196.39,446.13 L196.93,446.11 L197.47,446.08 L198.01,446.05 L198.56,446.01 L199.10,445.98 L199.64,445.95 L200.18,445.92 L200.73,445.89 L201.27,445.86 L201.81,445.82 L202.35,445.79 L202.89,445.76 L203.44,445.72 L203.98,445.69 L204.52,445.65 L205.06,445.62 L205.61,445.58 L206.15,445.55 L206.69,445.51 L207.23,445.47 L207.78,445.43 L208.32,445.40 L208.86,445.36 L209.40,445.32 L209.94,445.28 L210.49,445.24 L211.03,445.20 L211.57,445.16 L212.11,445.12 L212.66,445.08 L213.20,445.03 L213.74,444.99 L214.28,444.95 L214.83,444.90 L215.37,444.86 L215.91,444.82 L216.45,444.77 L216.99,444.73 L217.54,444.68 L218.08,444.63 L218.62,444.59 L219.16,444.54 L219.71,444.49 L220.25,444.44 L220.79,444.39 L221.33,444.35 L221.88,444.30 L222.42,444.25 L222.96,444.19 L223.50,444.14 L224.04,444.09 L224.59,444.04 L225.13,443.99 L225.67,443.93 L226.21,443.88 L226.76,443.82 L227.30,443.77 L227.84,443.71 L228.38,443.66 L228.93,443.60 L229.47,443.54 L230.01,443.49 L230.55,443.43 L231.09,443.37 L231.64,443.31 L232.18,443.25 L232.72,443.19 L233.26,443.13 L233.81,443.07 L234.35,443.01 L234.89,442.94 L235.43,442.88 L235.98,442.82 L236.52,442.75 L237.06,442.69 L237.60,442.62 L238.14,442.55 L238.69,442.49 L239.23,442.42 L239.77,442.35 L240.31,442.28 L240.86,442.22 L241.40,442.15 L241.94,442.08 L242.48,442.00 L243.03,441.93 L243.57,441.86 L244.11,441.79 L244.65,441.72 L245.19,441.64 L245.74,441.57 L246.28,441.49 L246.82,441.42 L247.36,441.34 L247.91,441.26 L248.45,441.19 L248.99,441.11 L249.53,441.03 L250.07,440.95 L250.62,440.87 L251.16,440.79 L251.70,440.71 L252.24,440.62 L252.79,440.54 L253.33,440.46 L253.87,440.37 L254.41,440.29 L254.96,440.20 L255.50,440.12 L256.04,440.03 L256.58,439.94 L257.12,439.86 L257.67,439.77 L258.21,439.68 L258.75,439.59 L259.29,439.50 L259.84,439.41 L260.38,439.31 L260.92,439.22 L261.46,439.13 L262.01,439.03 L262.55,438.94 L263.09,438.84 L263.63,438.75 L264.17,438.65 L264.72,438.55 L265.26,438.45 L265.80,438.35 L266.34,438.26 L266.89,438.15 L267.43,438.05 L267.97,437.95 L268.51,437.85 L269.06,437.75 L269.60,437.64 L270.14,437.54 L270.68,437.43 L271.22,437.32 L271.77,437.22 L272.31,437.11 L272.85,437.00 L273.39,436.89 L273.94,436.78 L274.48,436.67 L275.02,436.56 L275.56,436.45 L276.11,436.33 L276.65,436.22 L277.19,436.11 L277.73,435.99 L278.27,435.87 L278.82,435.76 L279.36,435.64 L279.90,435.52 L280.44,435.40 L280.99,435.28 L281.53,435.16 L282.07,435.04 L282.61,434.92 L283.16,434.79 L283.70,434.67 L284.24,434.55 L284.78,434.42 L285.32,434.29 L285.87,434.17 L286.41,434.04 L286.95,433.91 L287.49,433.78 L288.04,433.65 L288.58,433.52 L289.12,433.39 L289.66,433.25 L290.21,433.12 L290.75,432.99 L291.29,432.85 L291.83,432.72 L292.37,432.58 L292.92,432.44 L293.46,432.30 L294.00,432.16 L294.54,432.02 L295.09,431.88 L295.63,431.74 L296.17,431.60 L296.71,431.45 L297.26,431.31 L297.80,431.16 L298.34,431.02 L298.88,430.87 L299.42,430.72 L299.97,430.57 L300.51,430.42 L301.05,430.27 L301.59,430.12 L302.14,429.97 L302.68,429.81 L303.22,429.66 L303.76,429.50 L304.31,429.35 L304.85,429.19 L305.39,429.03 L305.93,428.87 L306.47,428.72 L307.02,428.55 L307.56,428.39 L308.10,428.23 L308.64,428.07 L309.19,427.90 L309.73,427.74 L310.27,427.57 L310.81,427.41 L311.35,427.24 L311.90,427.07 L312.44,426.90 L312.98,426.73 L313.52,426.56 L314.07,426.38 L314.61,426.21 L315.15,426.04 L315.69,425.86 L316.24,425.69 L316.78,425.51 L317.32,425.33 L317.86,425.15 L318.40,424.97 L318.95,424.79 L319.49,424.61 L320.03,424.42 L320.57,424.24 L321.12,424.06 L321.66,423.87 L322.20,423.68 L322.74,423.50 L323.29,423.31 L323.83,423.12 L324.37,422.93 L324.91,422.73 L325.45,422.54 L326.00,422.35 L326.54,422.15 L327.08,421.96 L327.62,421.76 L328.17,421.56 L328.71,421.36 L329.25,421.16 L329.79,420.96 L330.34,420.76 L330.88,420.56 L331.42,420.36 L331.96,420.15 L332.50,419.94 L333.05,419.74 L333.59,419.53 L334.13,419.32 L334.67,419.11 L335.22,418.90 L335.76,418.69 L336.30,418.47 L336.84,418.26 L337.39,418.05 L337.93,417.83 L338.47,417.61 L339.01,417.39 L339.55,417.17 L340.10,416.95 L340.64,416.73 L341.18,416.51 L341.72,416.29 L342.27,416.06 L342.81,415.83 L343.35,415.61 L343.89,415.38 L344.44,415.15 L344.98,414.92 L345.52,414.69 L346.06,414.46 L346.60,414.22 L347.15,413.99 L347.69,413.75 L348.23,413.52 L348.77,413.28 L349.32,413.04 L349.86,412.80 L350.40,412.56 L350.94,412.32 L351.49,412.07 L352.03,411.83 L352.57,411.58 L353.11,411.34 L353.65,411.09 L354.20,410.84 L354.74,410.59 L355.28,410.34 L355.82,410.09 L356.37,409.83 L356.91,409.58 L357.45,409.32 L357.99,409.07 L358.53,408.81 L359.08,408.55 L359.62,408.29 L360.16,408.03 L360.70,407.76 L361.25,407.50 L361.79,407.24 L362.33,406.97 L362.87,406.70 L363.42,406.43 L363.96,406.16 L364.50,405.89 L365.04,405.62 L365.58,405.35 L366.13,405.07 L366.67,404.80 L367.21,404.52 L367.75,404.24 L368.30,403.96 L368.84,403.68 L369.38,403.40 L369.92,403.12 L370.47,402.84 L371.01,402.55 L371.55,402.26 L372.09,401.98 L372.63,401.69 L373.18,401.40 L373.72,401.11 L374.26,400.81 L374.80,400.52 L375.35,400.23 L375.89,399.93 L376.43,399.63 L376.97,399.33 L377.52,399.03 L378.06,398.73 L378.60,398.43 L379.14,398.13 L379.68,397.82 L380.23,397.52 L380.77,397.21 L381.31,396.90 L381.85,396.59 L382.40,396.28 L382.94,395.97 L383.48,395.65 L384.02,395.34 L384.57,395.02 L385.11,394.71 L385.65,394.39 L386.19,394.07 L386.73,393.75 L387.28,393.42 L387.82,393.10 L388.36,392.78 L388.90,392.45 L389.45,392.12 L389.99,391.79 L390.53,391.46 L391.07,391.13 L391.62,390.80 L392.16,390.46 L392.70,390.13 L393.24,389.79 L393.78,389.45 L394.33,389.11 L394.87,388.77 L395.41,388.43 L395.95,388.09 L396.50,387.74 L397.04,387.40 L397.58,387.05 L398.12,386.70 L398.67,386.35 L399.21,386.00 L399.75,385.65 L400.29,385.29 L400.83,384.94 L401.38,384.58 L401.92,384.22 L402.46,383.86 L403.00,383.50 L403.55,383.14 L404.09,382.78 L404.63,382.41 L405.17,382.05 L405.72,381.68 L406.26,381.31 L406.80,380.94 L407.34,380.57 L407.88,380.19 L408.43,379.82 L408.97,379.44 L409.51,379.07 L410.05,378.69 L410.60,378.31 L411.14,377.93 L411.68,377.54 L412.22,377.16 L412.76,376.77 L413.31,376.39 L413.85,376.00 L414.39,375.61 L414.93,375.22 L415.48,374.82 L416.02,374.43 L416.56,374.04 L417.10,373.64 L417.65,373.24 L418.19,372.84 L418.73,372.44 L419.27,372.04 L419.81,371.63 L420.36,371.23 L420.90,370.82 L421.44,370.41 L421.98,370.00 L422.53,369.59 L423.07,369.18 L423.61,368.76 L424.15,368.35 L424.70,367.93 L425.24,367.51 L425.78,367.09 L426.32,366.67 L426.86,366.25 L427.41,365.82 L427.95,365.40 L428.49,364.97 L429.03,364.54 L429.58,364.11 L430.12,363.68 L430.66,363.25 L431.20,362.81 L431.75,362.37 L432.29,361.94 L432.83,361.50 L433.37,361.06 L433.91,360.61 L434.46,360.17 L435.00,359.72 L435.54,359.28 L436.08,358.83 L436.63,358.38 L437.17,357.93 L437.71,357.48 L438.25,357.02 L438.80,356.57 L439.34,356.11 L439.88,355.65 L440.42,355.19 L440.96,354.73 L441.51,354.26 L442.05,353.80 L442.59,353.33 L443.13,352.86 L443.68,352.39 L444.22,351.92 L444.76,351.45 L445.30,350.97 L445.85,350.50 L446.39,350.02 L446.93,349.54 L447.47,349.06 L448.01,348.58 L448.56,348.09 L449.10,347.61 L449.64,347.12 L450.18,346.63 L450.73,346.14 L451.27,345.65 L451.81,345.16 L452.35,344.66 L452.90,344.17 L453.44,343.67 L453.98,343.17 L454.52,342.67 L455.06,342.17 L455.61,341.66 L456.15,341.15 L456.69,340.65 L457.23,340.14 L457.78,339.63 L458.32,339.11 L458.86,338.60 L459.40,338.08 L459.95,337.57 L460.49,337.05 L461.03,336.53 L461.57,336.01 L462.11,335.48 L462.66,334.96 L463.20,334.43 L463.74,333.90 L464.28,333.37 L464.83,332.84 L465.37,332.30 L465.91,331.77 L466.45,331.23 L467.00,330.69 L467.54,330.15 L468.08,329.61 L468.62,329.07 L469.16,328.52 L469.71,327.97 L470.25,327.42 L470.79,326.87 L471.33,326.32 L471.88,325.77 L472.42,325.21 L472.96,324.66 L473.50,324.10 L474.04,323.54 L474.59,322.97 L475.13,322.41 L475.67,321.84 L476.21,321.28 L476.76,320.71 L477.30,320.14 L477.84,319.57 L478.38,318.99 L478.93,318.42 L479.47,317.84 L480.01,317.26 L480.55,316.68 L481.09,316.09 L481.64,315.51 L482.18,314.92 L482.72,314.34 L483.26,313.75 L483.81,313.15 L484.35,312.56 L484.89,311.97 L485.43,311.37 L485.98,310.77 L486.52,310.17 L487.06,309.57 L487.60,308.97 L488.14,308.36 L488.69,307.75 L489.23,307.14 L489.77,306.53 L490.31,305.92 L490.86,305.31 L491.40,304.69 L491.94,304.07 L492.48,303.45 L493.03,302.83 L493.57,302.21 L494.11,301.58 L494.65,300.96 L495.19,300.33 L495.74,299.70 L496.28,299.07 L496.82,298.43 L497.36,297.80 L497.91,297.16 L498.45,296.52 L498.99,295.88 L499.53,295.24 L500.08,294.59 L500.62,293.95 L501.16,293.30 L501.70,292.65 L502.24,292.00 L502.79,291.34 L503.33,290.69 L503.87,290.03 L504.41,289.37 L504.96,288.71 L505.50,288.05 L506.04,287.38 L506.58,286.71 L507.13,286.05 L507.67,285.38 L508.21,284.70 L508.75,284.03 L509.29,283.35 L509.84,282.68 L510.38,282.00 L510.92,281.31 L511.46,280.63 L512.01,279.95 L512.55,279.26 L513.09,278.57 L513.63,277.88 L514.18,277.19 L514.72,276.49 L515.26,275.79 L515.80,275.10 L516.34,274.40 L516.89,273.69 L517.43,272.99 L517.97,272.28 L518.51,271.58 L519.06,270.87 L519.60,270.15 L520.14,269.44 L520.68,268.73 L521.22,268.01 L521.77,267.29 L522.31,266.57 L522.85,265.84 L523.39,265.12 L523.94,264.39 L524.48,263.66 L525.02,262.93 L525.56,262.20 L526.11,261.46 L526.65,260.73 L527.19,259.99 L527.73,259.25 L528.27,258.51 L528.82,257.76 L529.36,257.02 L529.90,256.27 L530.44,255.52 L530.99,254.76 L531.53,254.01 L532.07,253.25 L532.61,252.50 L533.16,251.74 L533.70,250.97 L534.24,250.21 L534.78,249.44 L535.32,248.68 L535.87,247.91 L536.41,247.13 L536.95,246.36 L537.49,245.58 L538.04,244.81 L538.58,244.03 L539.12,243.24 L539.66,242.46 L540.21,241.67 L540.75,240.89 L541.29,240.10 L541.83,239.30 L542.37,238.51 L542.92,237.71 L543.46,236.92 L544.00,236.12 L544.54,235.31 L545.09,234.51 L545.63,233.70 L546.17,232.89 L546.71,232.08 L547.26,231.27 L547.80,230.46 L548.34,229.64 L548.88,228.82 L549.42,228.00 L549.97,227.18 L550.51,226.36 L551.05,225.53 L551.59,224.70 L552.14,223.87 L552.68,223.04 L553.22,222.20 L553.76,221.37 L554.31,220.53 L554.85,219.69 L555.39,218.84 L555.93,218.00 L556.47,217.15 L557.02,216.30 L557.56,215.45 L558.10,214.60 L558.64,213.74 L559.19,212.88 L559.73,212.02 L560.27,211.16 L560.81,210.30 L561.36,209.43 L561.90,208.56 L562.44,207.69 L562.98,206.82 L563.52,205.95 L564.07,205.07 L564.61,204.19 L565.15,203.31 L565.69,202.43 L566.24,201.54 L566.78,200.65 L567.32,199.76 L567.86,198.87 L568.41,197.98 L568.95,197.08 L569.49,196.19 L570.03,195.29 L570.57,194.38 L571.12,193.48 L571.66,192.57 L572.20,191.66 L572.74,190.75 L573.29,189.84 L573.83,188.93 L574.37,188.01 L574.91,187.09 L575.45,186.17 L576.00,185.24 L576.54,184.32 L577.08,183.39 L577.62,182.46 L578.17,181.53 L578.71,180.59 L579.25,179.65 L579.79,178.72 L580.34,177.77 L580.88,176.83 L581.42,175.89 L581.96,174.94 L582.50,173.99 L583.05,173.04 L583.59,172.08 L584.13,171.12 L584.67,170.17 L585.22,169.20 L585.76,168.24 L586.30,167.28 L586.84,166.31 L587.39,165.34 L587.93,164.37 L588.47,163.39 L589.01,162.41 L589.55,161.44 L590.10,160.45 L590.64,159.47 L591.18,158.49 L591.72,157.50 L592.27,156.51 L592.81,155.51 L593.35,154.52 L593.89,153.52 L594.44,152.52 L594.98,151.52 L595.52,150.52 L596.06,149.51 L596.60,148.51 L597.15,147.49 L597.69,146.48 L598.23,145.47 L598.77,144.45 L599.32,143.43 L599.86,142.41 L600.40,141.38 L600.94,140.36 L601.49,139.33 L602.03,138.30 L602.57,137.26 L603.11,136.23 L603.65,135.19 L604.20,134.15 L604.74,133.11 L605.28,132.06 L605.82,131.02 L606.37,129.97 L606.91,128.92 L607.45,127.86 L607.99,126.80 L608.54,125.75 L609.08,124.69 L609.62,123.62 L610.16,122.56 L610.70,121.49 L611.25,120.42 L611.79,119.34 L612.33,118.27 L612.87,117.19 L613.42,116.11 L613.96,115.03 L614.50,113.95 L615.04,112.86 L615.59,111.77 L616.13,110.68 L616.67,109.58 L617.21,108.49 L617.75,107.39 L618.30,106.29 L618.84,105.19 L619.38,104.08 L619.92,102.97 L620.47,101.86 L621.01,100.75 L621.55,99.63 L622.09,98.51 L622.64,97.39 L623.18,96.27 L623.72,95.15 L624.26,94.02 L624.80,92.89 L625.35,91.76 L625.89,90.62 L626.43,89.49 L626.97,88.35 L627.52,87.21 L628.06,86.06 L628.60,84.92 L629.14,83.77 L629.68,82.62 L630.23,81.46 L630.77,80.31 L631.31,79.15 L631.85,77.99 L632.40,76.82 L632.94,75.66 L633.48,74.49 L634.02,73.32 L634.57,72.14 L635.11,70.97 L635.65,69.79 L636.19,68.61 L636.73,67.43 L637.28,66.24 L637.82,65.05 L638.36,63.86 L638.90,62.67 L639.45,61.47 L639.99,60.28 L640.53,59.08 L641.07,57.87 L641.62,56.67 L642.16,55.46 L642.70,54.25 L643.24,53.04 L643.78,51.82 L644.33,50.60 L644.87,49.38 L645.41,48.16 L645.95,46.93 L646.50,45.71 L647.04,44.48 L647.58,43.24 L648.12,42.01 L648.67,40.77 L649.21,39.53 L649.75,38.29 L650.29,37.04 L650.83,35.79 L651.38,34.54 L651.92,33.29 L652.46,32.04 L653.00,30.78 L653.55,29.52 L654.09,28.25 L654.63,26.99 L655.17,25.72 L655.72,24.45 L656.26,23.18 L656.80,21.90" fill="none" stroke="#2ca02c" stroke-width="3.96" stroke-dasharray="3.96 6.53" stroke-linecap="butt" stroke-linejoin="round"/>
<path d="M87.3,469.3 L87.3,0.75 M683.9,469.3 L683.9,0.75 M87.3,0.75 L683.9,0.75" fill="none" stroke="#000" stroke-width="1.25" stroke-linecap="square"/>
<path d="M87.3,469.3 L683.9,469.3" fill="none" stroke="#000" stroke-width="1.5" stroke-linecap="square"/>
<path d="M114.50,469.3 L114.50,474.0 M87.3,447.60 L82.6,447.60 M222.96,469.3 L222.96,474.0 M87.3,362.46 L82.6,362.46 M331.42,469.3 L331.42,474.0 M87.3,277.32 L82.6,277.32 M439.88,469.3 L439.88,474.0 M87.3,192.18 L82.6,192.18 M548.34,469.3 L548.34,474.0 M87.3,107.04 L82.6,107.04 M656.80,469.3 L656.80,474.0 M87.3,21.90 L82.6,21.90" stroke="#000" stroke-width="1.25"/>
<g font-family="DejaVu Sans" font-size="26.7" fill="#000">
<text x="114.50" y="498.5" text-anchor="middle">0.0</text>
<text x="78.5" y="458.00" text-anchor="end">0.0</text>
<text x="222.96" y="498.5" text-anchor="middle">0.2</text>
<text x="78.5" y="372.86" text-anchor="end">0.2</text>
<text x="331.42" y="498.5" text-anchor="middle">0.4</text>
<text x="78.5" y="287.72" text-anchor="end">0.4</text>
<text x="439.88" y="498.5" text-anchor="middle">0.6</text>
<text x="78.5" y="202.58" text-anchor="end">0.6</text>
<text x="548.34" y="498.5" text-anchor="middle">0.8</text>
<text x="78.5" y="117.44" text-anchor="end">0.8</text>
<text x="656.80" y="498.5" text-anchor="middle">1.0</text>
<text x="78.5" y="32.30" text-anchor="end">1.0</text>
</g>
<text x="385.8" y="533.6" text-anchor="middle" textLength="240.16" lengthAdjust="spacing" font-family="DejaVu Sans" font-size="32.0">Design Density</text>
<text transform="translate(24.05,234.95) rotate(-90)" text-anchor="middle" textLength="259.7" lengthAdjust="spacing" font-family="DejaVu Sans" font-size="32.0">Physical Density</text>
<path d="M105.79,13.75 L373.06,13.75 Q378.40,13.75 378.40,19.09 L378.40,131.81 Q378.40,137.15 373.06,137.15 L105.79,137.15 Q100.45,137.15 100.45,131.81 L100.45,19.09 Q100.45,13.75 105.79,13.75 Z" fill="#fff" fill-opacity="0.8" stroke="#ccc" stroke-opacity="0.8" stroke-width="1.35"/>
<path d="M110.8,34.9 L164.1,34.9" stroke="#1f77b4" stroke-width="3.96" stroke-linecap="square"/>
<path d="M110.8,73.9 L164.1,73.9" stroke="#ff7f0e" stroke-width="3.96" stroke-dasharray="14.65 6.34"/>
<path d="M110.8,112.3 L164.1,112.3" stroke="#2ca02c" stroke-width="3.96" stroke-dasharray="3.96 6.53"/>
<g font-family="DejaVu Sans" font-size="26.7" fill="#000">
<text x="184.85" y="44.6" textLength="148.59" lengthAdjust="spacing">RAMP, R=8</text>
<text x="184.85" y="83.3" textLength="183.38" lengthAdjust="spacing">RAMP, R=-0.5</text>
<text x="184.85" y="121.6" textLength="135.69" lengthAdjust="spacing">SIMP, S=3</text>
</g>
</svg>
</body></html>
